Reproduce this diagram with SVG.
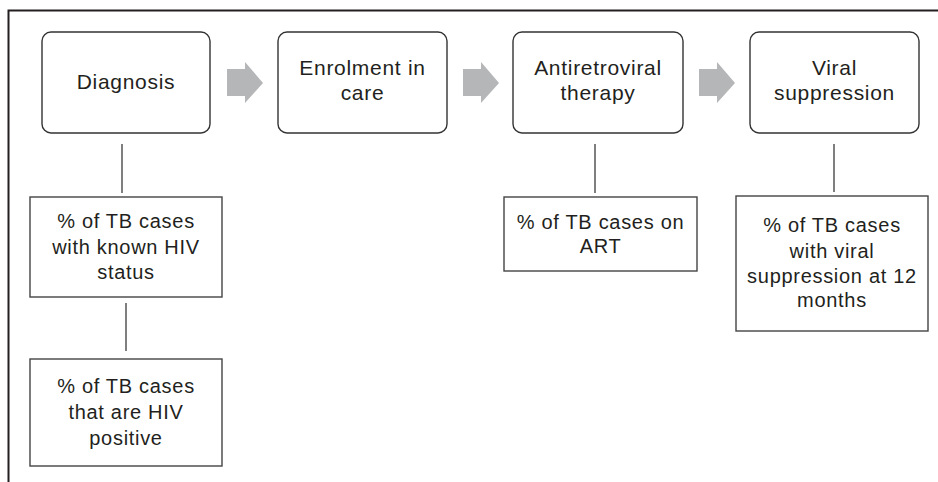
<svg xmlns="http://www.w3.org/2000/svg" width="938" height="482" viewBox="0 0 938 482">
<style>
.stage{fill:#fff;stroke:#333;stroke-width:1.4}
.ind{fill:#fff;stroke:#444;stroke-width:1.4}
.arr{fill:#b5b6b8;stroke:none}
.con{stroke:#555;stroke-width:1.5;fill:none}
text{font-family:"Liberation Sans",Arial,sans-serif;fill:#231f20;text-anchor:middle;letter-spacing:0.7px}
.t1{font-size:21px}
.t2{font-size:20px}
</style>
<rect width="938" height="482" fill="#fff"/>
<path d="M8.5,482 V10.5 H938" fill="none" stroke="#231f20" stroke-width="2"/>
<g id="connectors">
<path class="arr" d="M227,69 H245 V62 L263,83 L245,103 V96 H227 Z"/>
<path class="arr" d="M463,69 H481 V62 L499,83 L481,103 V96 H463 Z"/>
<path class="arr" d="M699,69 H717 V62 L735,83 L717,103 V96 H699 Z"/>
<line class="con" x1="122" y1="144" x2="122" y2="193"/>
<line class="con" x1="126" y1="303" x2="126" y2="351"/>
<line class="con" x1="595" y1="144" x2="595" y2="193"/>
<line class="con" x1="834" y1="144" x2="834" y2="192"/>
</g>
<g id="diagnosis">
<rect class="stage" x="42" y="32" width="168" height="101" rx="9"/>
<text class="t1" x="126" y="89">Diagnosis</text>
</g>
<g id="enrolment">
<rect class="stage" x="278" y="32" width="169" height="101" rx="9"/>
<text class="t1" x="362.5" y="75">Enrolment in</text>
<text class="t1" x="362.5" y="100">care</text>
</g>
<g id="art">
<rect class="stage" x="513" y="32" width="170" height="101" rx="9"/>
<text class="t1" x="598" y="75">Antiretroviral</text>
<text class="t1" x="598" y="100">therapy</text>
</g>
<g id="viral">
<rect class="stage" x="750" y="32" width="169" height="101" rx="9"/>
<text class="t1" x="834.5" y="75">Viral</text>
<text class="t1" x="834.5" y="100">suppression</text>
</g>
<g id="known-status">
<rect class="ind" x="30" y="197" width="192" height="100"/>
<text class="t2" x="126" y="228">% of TB cases</text>
<text class="t2" x="126" y="254">with known HIV</text>
<text class="t2" x="126" y="279">status</text>
</g>
<g id="hiv-positive">
<rect class="ind" x="30" y="359" width="192" height="107"/>
<text class="t2" x="126" y="393">% of TB cases</text>
<text class="t2" x="126" y="419">that are HIV</text>
<text class="t2" x="126" y="445">positive</text>
</g>
<g id="on-art">
<rect class="ind" x="504" y="197" width="193" height="74"/>
<text class="t2" x="600.5" y="229">% of TB cases on</text>
<text class="t2" x="600.5" y="253">ART</text>
</g>
<g id="suppression">
<rect class="ind" x="736" y="196" width="192" height="135"/>
<text class="t2" x="832" y="232">% of TB cases</text>
<text class="t2" x="832" y="258">with viral</text>
<text class="t2" x="832" y="283">suppression at 12</text>
<text class="t2" x="832" y="307">months</text>
</g>
</svg>
